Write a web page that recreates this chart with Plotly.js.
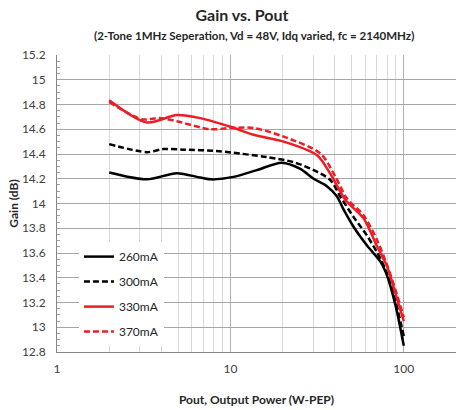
<!DOCTYPE html>
<html>
<head>
<meta charset="utf-8">
<script src="https://cdn.plot.ly/plotly-3.0.1.min.js"></script>
<style>html,body{margin:0;padding:0;background:#fff;}#chart{width:461px;height:410px;}</style>
</head>
<body>
<div id="chart"></div>
<script>
// Data
const seriesNames = ["260mA", "300mA", "330mA", "370mA"];

const pout260 = [2, 3.3, 4.9, 6.7, 7.8, 10.4, 14.2, 19.8, 25.3, 30.2, 36, 41, 45, 51.4, 61.4, 73.3, 78.4, 83.8, 91.5, 100];
const gain260 = [14.25, 14.195, 14.245, 14.21, 14.195, 14.215, 14.27, 14.33, 14.28, 14.2, 14.14, 14.06, 13.95, 13.81, 13.66, 13.53, 13.45, 13.33, 13.12, 12.85];

const pout300 = [2, 3.3, 4.1, 5.35, 8.3, 10.4, 16.2, 23, 30.2, 37.7, 43.3, 51.4, 61.4, 73.3, 80.2, 87.7, 100];
const gain300 = [14.48, 14.415, 14.44, 14.435, 14.425, 14.41, 14.375, 14.335, 14.27, 14.19, 14.05, 13.89, 13.74, 13.555, 13.43, 13.26, 12.93];

const pout330 = [2, 3.3, 4.9, 6.7, 10, 13.6, 20.3, 31.6, 37.7, 46, 58.6, 70.3, 80.2, 89.6, 100];
const gain330 = [14.835, 14.655, 14.715, 14.69, 14.62, 14.555, 14.5, 14.39, 14.24, 14.03, 13.88, 13.65, 13.49, 13.27, 13.05];

const pout370 = [2, 3.1, 3.9, 4.9, 7.6, 10, 13.6, 20.3, 33, 40.4, 47, 58.6, 70.3, 80.2, 89.6, 100];
const gain370 = [14.82, 14.68, 14.69, 14.665, 14.6, 14.61, 14.61, 14.54, 14.405, 14.215, 14.04, 13.905, 13.7, 13.5, 13.3, 13.08];

const xTickVals = [1, 10, 100];
const xTickText = ["1", "10", "100"];
const xMinorVals = [2, 3, 4, 5, 6, 7, 8, 9, 20, 30, 40, 50, 60, 70, 80, 90, 200];

const FONT = "Lato, 'Open Sans', sans-serif";
const BLACK = "#000000";
const RED = "#ee1c25";

function trace(x, y, name, color, dash, grp) {
  return {
    x: x, y: y, name: name, type: "scatter", mode: "lines",
    line: {color: color, width: 2.5, dash: dash, shape: "spline", smoothing: 0.8},
    legendgroup: grp
  };
}

const data = [
  trace(pout260, gain260, seriesNames[0], BLACK, "solid", "a"),
  trace(pout300, gain300, seriesNames[1], BLACK, "6px,3px", "b"),
  trace(pout330, gain330, seriesNames[2], RED, "solid", "c"),
  trace(pout370, gain370, seriesNames[3], RED, "6px,3px", "d")
];

const layout = {
  width: 461, height: 410,
  margin: {l: 57, r: 5, t: 55, b: 58},
  paper_bgcolor: "#ffffff", plot_bgcolor: "#ffffff",
  font: {family: FONT, size: 12, color: "#404040"},
  title: {
    text: "<b>Gain vs. Pout</b>",
    font: {family: FONT, size: 16, color: "#262626"},
    x: 242 / 461, xanchor: "center", xref: "container",
    y: 1 - 15 / 410, yanchor: "middle", yref: "container"
  },
  annotations: [{
    text: "<b>(2-Tone 1MHz Seperation, Vd = 48V, Idq varied, fc = 2140MHz)</b>",
    xref: "paper", yref: "paper",
    x: (254 - 57) / 399, y: 1 + (55 - 35) / 297,
    xanchor: "center", yanchor: "middle", showarrow: false,
    font: {family: FONT, size: 11.5, color: "#262626"}
  }],
  xaxis: {
    type: "log",
    range: [0, Math.log10(200)],
    tickmode: "array", tickvals: xTickVals, ticktext: xTickText,
    ticks: "", ticklabelstandoff: 6,
    showgrid: true, gridcolor: "#b0b0b0", gridwidth: 1,
    minor: {tickvals: xMinorVals, showgrid: true, gridcolor: "#d9d9d9", gridwidth: 1, ticks: ""},
    showline: true, linecolor: "#868686", linewidth: 1,
    zeroline: false,
    tickfont: {family: FONT, size: 12, color: "#404040"},
    title: {text: "<b>Pout, Output Power (W-PEP)</b>", font: {family: FONT, size: 12, color: "#262626"}, standoff: 20}
  },
  yaxis: {
    range: [12.8, 15.2],
    tick0: 12.8, dtick: 0.2,
    ticks: "", ticklabelstandoff: 8,
    showgrid: true, gridcolor: "#a6a6a6", gridwidth: 1,
    minor: {dtick: 0.05, tick0: 12.8, ticks: "inside", ticklen: 3, tickcolor: "#a0a0a0", showgrid: false},
    showline: true, linecolor: "#868686", linewidth: 1,
    zeroline: false,
    tickfont: {family: FONT, size: 12, color: "#404040"},
    title: {text: "<b>Gain (dB)</b>", font: {family: FONT, size: 12, color: "#262626"}, standoff: 0}
  },
  showlegend: true,
  legend: {
    x: 0.055, y: 0.37, xanchor: "left", yanchor: "top",
    bgcolor: "#ffffff", borderwidth: 0,
    font: {family: FONT, size: 12, color: "#262626"},
    tracegroupgap: 6
  }
};

Plotly.newPlot("chart", data, layout, {displayModeBar: false, staticPlot: true});
</script>
</body>
</html>
